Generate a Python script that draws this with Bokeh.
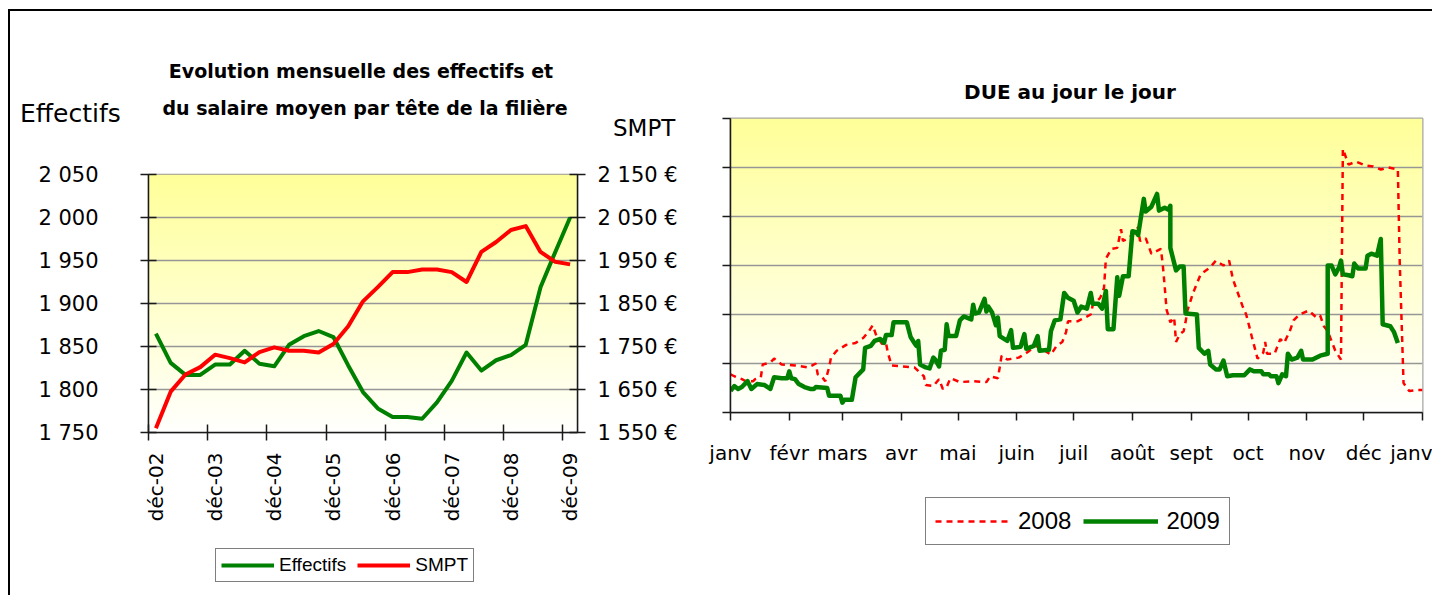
import math
import numpy as np
from bokeh.plotting import figure
from bokeh.models import (Range1d, LinearAxis, FixedTicker, Legend, LegendItem, Div)
from bokeh.layouts import row, column
from bokeh.embed import file_html
from bokeh.resources import INLINE

# ---------------- Left chart data (quarterly, déc-02 .. déc-09) ----------------
quarter_idx = list(range(29))
effectifs = [1865, 1831, 1817, 1817, 1829, 1829, 1845, 1830, 1827, 1852, 1862, 1868,
             1861, 1828, 1797, 1778, 1768, 1768, 1766, 1785, 1810, 1843, 1822, 1834,
             1840, 1852, 1919, 1960, 2000]
smpt = [1560, 1645, 1685, 1702, 1731, 1723, 1713, 1737, 1748, 1740, 1740, 1736,
        1756, 1797, 1855, 1888, 1923, 1923, 1929, 1929, 1923, 1900, 1970, 1993,
        2021, 2030, 1970, 1947, 1941]
year_label_pos = [0, 4, 8, 12, 16, 20, 24, 28]
year_labels = ["déc-02", "déc-03", "déc-04", "déc-05", "déc-06", "déc-07", "déc-08", "déc-09"]
eff_ticks = [1750, 1800, 1850, 1900, 1950, 2000, 2050]
eff_tick_labels = ["1 750", "1 800", "1 850", "1 900", "1 950", "2 000", "2 050"]
smpt_ticks = [1550, 1650, 1750, 1850, 1950, 2050, 2150]
smpt_tick_labels = ["1 550 €", "1 650 €", "1 750 €", "1 850 €", "1 950 €", "2 050 €", "2 150 €"]
left_title = ["Evolution mensuelle des effectifs et", "du salaire moyen par tête de la filière"]
left_axis_title = "Effectifs"
right_axis_title = "SMPT"
left_series = ["Effectifs", "SMPT"]

# ---------------- Right chart data (day of year) ----------------
days_2009 = [0, 2, 4, 6, 9, 11, 14, 18, 21, 23, 27, 30, 31, 32, 34, 36, 39, 42, 44, 45,
             51, 52, 58, 59, 60, 64, 66, 69, 70, 71, 74, 76, 79, 81, 82, 85, 86, 93,
             95, 97, 98, 99, 100, 103, 105, 107, 108, 110, 111, 113, 114, 115, 119, 121,
             123, 127, 128, 129, 131, 134, 135, 136, 138, 140, 141, 142, 146, 148, 149,
             153, 155, 156, 160, 162, 163, 168, 169, 171, 174, 176, 178, 181, 183, 185,
             188, 190, 191, 194, 196, 198, 199, 202, 204, 205, 207, 210, 212, 214, 215,
             218, 219, 222, 225, 226, 229, 231, 232, 232, 235, 237, 239, 240, 246, 247,
             250, 252, 253, 256, 258, 260, 262, 265, 271, 274, 276, 280, 281, 284, 285,
             288, 289, 291, 293, 294, 296, 299, 301, 302, 307, 311, 315, 315, 317, 319,
             321, 322, 323, 326, 328, 329, 331, 335, 336, 338, 341, 343, 344, 348, 350, 352]
due_2009 = [22, 27, 24, 26, 32, 24, 29, 28, 24, 36, 35, 35, 42, 35, 34, 29, 26, 24, 24, 26,
            25, 17, 17, 10, 13, 13, 36, 42, 44, 66, 68, 73, 75, 71, 79, 79, 92, 92,
            77, 71, 68, 73, 49, 46, 45, 56, 54, 47, 63, 64, 90, 78, 78, 94,
            98, 95, 110, 101, 102, 116, 103, 108, 102, 89, 97, 78, 73, 84, 66,
            67, 80, 65, 68, 78, 63, 64, 83, 94, 95, 122, 117, 114, 102, 108,
            106, 122, 111, 111, 106, 124, 85, 85, 138, 119, 139, 139, 185, 184, 181,
            218, 205, 210, 223, 206, 209, 207, 211, 168, 145, 149, 149, 101, 100, 66,
            60, 63, 49, 44, 44, 53, 37, 38, 38, 44, 42, 42, 39, 39, 37,
            37, 30, 39, 37, 60, 54, 56, 63, 54, 54, 58, 60, 150, 150, 141,
            148, 155, 141, 140, 139, 152, 147, 147, 160, 162, 160, 177, 90, 88, 82, 71]

days_2008 = [0, 2, 6, 8, 12, 13, 16, 17, 21, 23, 27, 34, 41, 45, 46, 48, 50, 52, 53, 56,
             61, 66, 70, 73, 75, 77, 80, 82, 83, 85, 91, 97, 102, 103, 107, 110, 112, 114,
             116, 121, 128, 135, 137, 141, 142, 143, 146, 152, 157, 161, 165, 169, 172,
             175, 177, 178, 183, 185, 190, 191, 195, 197, 198, 201, 204, 206, 207, 210,
             213, 215, 216, 219, 222, 227, 228, 229, 230, 232, 234, 235, 237, 239, 240,
             241, 244, 248, 253, 256, 260, 263, 265, 270, 272, 274, 275, 278, 281, 282,
             283, 287, 290, 292, 295, 297, 300, 305, 309, 311, 313, 315, 319, 322, 323,
             326, 330, 335, 339, 343, 347, 352, 353, 355, 358, 362, 365]
due_2008 = [39, 37, 34, 32, 32, 34, 36, 49, 51, 55, 49, 48, 46, 50, 39, 37, 32, 46, 56, 63,
            69, 71, 76, 83, 89, 78, 70, 71, 61, 48, 47, 46, 37, 28, 27, 34, 24, 26,
            35, 31, 32, 31, 37, 35, 46, 58, 54, 56, 62, 68, 64, 59, 68,
            72, 82, 93, 93, 95, 100, 109, 117, 127, 157, 167, 168, 187, 175, 178,
            183, 189, 175, 178, 162, 167, 151, 129, 105, 92, 97, 72, 80, 83, 92,
            104, 122, 141, 148, 155, 150, 155, 136, 109, 100, 85, 77, 55, 61, 72,
            60, 60, 75, 71, 83, 94, 100, 104, 97, 99, 88, 83, 63, 54, 269,
            253, 256, 252, 251, 248, 250, 248, 153, 30, 22, 23, 23]

month_start_days = [0, 31, 59, 90, 120, 151, 181, 212, 243, 273, 304, 334, 365]
month_labels = ["janv", "févr", "mars", "avr", "mai", "juin", "juil", "août",
                "sept", "oct", "nov", "déc", "janv"]
due_grid = [0, 50, 100, 150, 200, 250, 300]
right_title = "DUE au jour le jour"
right_series = ["2008", "2009"]

COMIC = "DejaVu Sans"
ARIAL = "Liberation Sans"
AXIS_COL = "#1a1a1a"
GRID_COL = "#969696"
GREEN = "#008000"
RED = "#ff0000"


def gradient(n=256):
    # background fill: near-white at bottom, yellow (#FFFF99) at top
    img = np.empty((n, 1), dtype=np.uint32)
    v = img.view(dtype=np.uint8).reshape((n, 1, 4))
    frac = np.arange(n) / (n - 1)
    v[:, 0, 0] = 255
    v[:, 0, 1] = 255
    v[:, 0, 2] = np.round(254 - (254 - 153) * frac).astype(np.uint8)
    v[:, 0, 3] = 255
    return img


def style_axis(ax, tick_in, tick_out):
    ax.major_tick_in = tick_in
    ax.major_tick_out = tick_out
    ax.minor_tick_line_color = None
    ax.axis_line_color = AXIS_COL
    ax.axis_line_width = 1.5
    ax.major_tick_line_color = AXIS_COL
    ax.major_tick_line_width = 1.5


def text_div(items, w, h):
    parts = []
    for txt, left, top, size, weight, align in items:
        tr = "transform:translateX(-50%);" if align == "center" else ""
        parts.append(
            f"<div style=\"position:absolute;left:{left}px;top:{top}px;{tr}white-space:nowrap;"
            f"font-family:'{COMIC}';font-weight:{weight};font-size:{size}px;"
            f"line-height:{size}px;color:black;\">{txt}</div>")
    html = (f"<div style=\"position:relative;width:{w}px;height:{h}px;overflow:visible;\">"
            + "".join(parts) + "</div>")
    return Div(text=html, width=w, height=h, margin=(0, 0, 0, 0))


def legend_fig(series, font_size, glyph_w, glyph_h, pad, standoff, spacing,
               b_left, frame_w, b_right, strip_h, loc):
    # a strip under a chart that only carries the chart's legend
    f = figure(frame_width=frame_w, frame_height=strip_h,
               x_range=Range1d(0, 1), y_range=Range1d(0, 1),
               min_border_left=b_left, min_border_right=b_right,
               min_border_top=0, min_border_bottom=0,
               x_axis_location=None, y_axis_location=None,
               output_backend="svg", toolbar_location=None)
    f.grid.visible = False
    f.outline_line_color = None
    f.background_fill_color = "white"
    f.border_fill_color = "white"
    items = []
    for name, xs, ys, st in series:
        r = f.line(xs, ys, visible=False, **st)
        items.append(LegendItem(label=name, renderers=[r]))
    leg = Legend(items=items, orientation="horizontal", location=loc,
                 label_text_font=ARIAL, label_text_font_size=font_size,
                 label_text_color="black",
                 glyph_width=glyph_w, glyph_height=glyph_h, label_height=glyph_h,
                 label_standoff=standoff, spacing=spacing, padding=pad, margin=0,
                 border_line_color="black", border_line_width=1.5,
                 background_fill_color="white", background_fill_alpha=1,
                 inactive_fill_alpha=0)
    f.add_layout(leg, "center")
    return f


eff_style = dict(line_color=GREEN, line_width=4, line_join="round")
smpt_style = dict(line_color=RED, line_width=4, line_join="round")
s08_style = dict(line_color=RED, line_width=2.5, line_dash="6 5")
s09_style = dict(line_color=GREEN, line_width=4.5, line_join="round")

# ======================= LEFT FIGURE =======================
xr1 = Range1d(-0.5, 28.5)
yr1 = Range1d(eff_ticks[0], eff_ticks[-1])
p1 = figure(frame_width=429, frame_height=258, x_range=xr1, y_range=yr1,
            min_border_left=138, min_border_right=129, min_border_top=29, min_border_bottom=100,
            output_backend="svg", toolbar_location=None)
p1.background_fill_color = "white"
p1.border_fill_color = "white"
p1.outline_line_color = GRID_COL
p1.outline_line_width = 1.5
p1.extra_y_ranges = {"smpt": Range1d(smpt_ticks[0], smpt_ticks[-1])}

p1.image_rgba(image=[gradient()], x=xr1.start, y=yr1.start,
              dw=xr1.end - xr1.start, dh=yr1.end - yr1.start, level="image")

ya = p1.yaxis[0]
ya.ticker = FixedTicker(ticks=eff_ticks)
ya.major_label_overrides = dict(zip(eff_ticks, eff_tick_labels))
ya.major_label_text_font = COMIC
ya.major_label_text_font_size = "21px"
ya.major_label_text_color = "black"
ya.major_label_standoff = 42
style_axis(ya, 8, 8)

ra = LinearAxis(y_range_name="smpt", ticker=FixedTicker(ticks=smpt_ticks))
ra.major_label_overrides = dict(zip(smpt_ticks, smpt_tick_labels))
ra.major_label_text_font = COMIC
ra.major_label_text_font_size = "21px"
ra.major_label_text_color = "black"
ra.major_label_standoff = 12
style_axis(ra, 8, 8)
p1.add_layout(ra, "right")

# bottom axis 1: tick marks between the years
year_bounds = [p - 0.5 for p in year_label_pos]
xa = p1.xaxis[0]
xa.ticker = FixedTicker(ticks=year_bounds)
xa.major_label_overrides = {b: "" for b in year_bounds}
xa.major_label_text_color = None
xa.major_label_standoff = 0
style_axis(xa, 8, 8)

# bottom axis 2: year labels (category centres)
xa2 = LinearAxis(ticker=FixedTicker(ticks=year_label_pos))
xa2.major_label_overrides = dict(zip(year_label_pos, year_labels))
xa2.major_label_orientation = math.pi / 2
xa2.major_label_text_font = COMIC
xa2.major_label_text_font_size = "20px"
xa2.major_label_text_color = "black"
xa2.axis_line_color = None
xa2.major_tick_line_color = None
xa2.minor_tick_line_color = None
xa2.major_tick_in = 0
xa2.major_tick_out = 0
xa2.major_label_standoff = 12
p1.add_layout(xa2, "below")

p1.xgrid.visible = False
p1.ygrid.grid_line_color = GRID_COL
p1.ygrid.grid_line_width = 1.3

p1.line(quarter_idx, effectifs, **eff_style)
p1.line(quarter_idx, smpt, y_range_name="smpt", **smpt_style)

div1 = text_div([
    (left_title[0], 351, 51, 19, "bold", "center"),
    (left_title[1], 355, 88, 19, "bold", "center"),
    (left_axis_title, 10, 90, 25, "normal", "left"),
    (right_axis_title, 603, 106, 23, "normal", "left"),
], 696, 134)

leg_fig1 = legend_fig([(left_series[0], quarter_idx, effectifs, eff_style),
                       (left_series[1], quarter_idx, smpt, smpt_style)],
                      "19px", 53, 20, 5, 5, 11,
                      b_left=138, frame_w=429, b_right=129, strip_h=63, loc=(67, 13))

# ======================= RIGHT FIGURE =======================
xr2 = Range1d(month_start_days[0], month_start_days[-1])
yr2 = Range1d(due_grid[0], due_grid[-1])
p2 = figure(frame_width=692, frame_height=294, x_range=xr2, y_range=yr2,
            min_border_left=24, min_border_right=10, min_border_top=11, min_border_bottom=60,
            output_backend="svg", toolbar_location=None)
p2.background_fill_color = "white"
p2.border_fill_color = "white"
p2.outline_line_color = "#a6a6a6"
p2.outline_line_width = 2

p2.image_rgba(image=[gradient()], x=xr2.start, y=yr2.start,
              dw=xr2.end - xr2.start, dh=yr2.end - yr2.start, level="image")

ya2 = p2.yaxis[0]
ya2.ticker = FixedTicker(ticks=due_grid)
ya2.major_label_overrides = {g: "" for g in due_grid}
ya2.major_label_text_color = None
ya2.major_label_standoff = 0
style_axis(ya2, 0, 8)

xb = p2.xaxis[0]
xb.ticker = FixedTicker(ticks=month_start_days)
xb.major_label_overrides = dict(zip(month_start_days, month_labels))
xb.major_label_text_font = COMIC
xb.major_label_text_font_size = "20px"
xb.major_label_text_color = "black"
xb.major_label_standoff = 20
style_axis(xb, 0, 8)

p2.xgrid.visible = False
p2.ygrid.grid_line_color = GRID_COL
p2.ygrid.grid_line_width = 1.3

p2.line(days_2008, due_2008, **s08_style)
p2.line(days_2009, due_2009, **s09_style)

div2 = text_div([(right_title, 364, 71, 20, "bold", "center")], 726, 96)

leg_fig2 = legend_fig([(right_series[0], days_2008, due_2008, s08_style),
                       (right_series[1], days_2009, due_2009, s09_style)],
                      "24px", 75, 24, 9, 8, 12,
                      b_left=24, frame_w=692, b_right=10, strip_h=123, loc=(195, 50))

layout = row(column(div1, p1, leg_fig1), column(div2, p2, leg_fig2), margin=(9, 0, 0, 8),
             styles={"border-top": "2px solid black", "border-left": "2px solid black"})

open("out.html", "w").write(file_html(layout, INLINE))
